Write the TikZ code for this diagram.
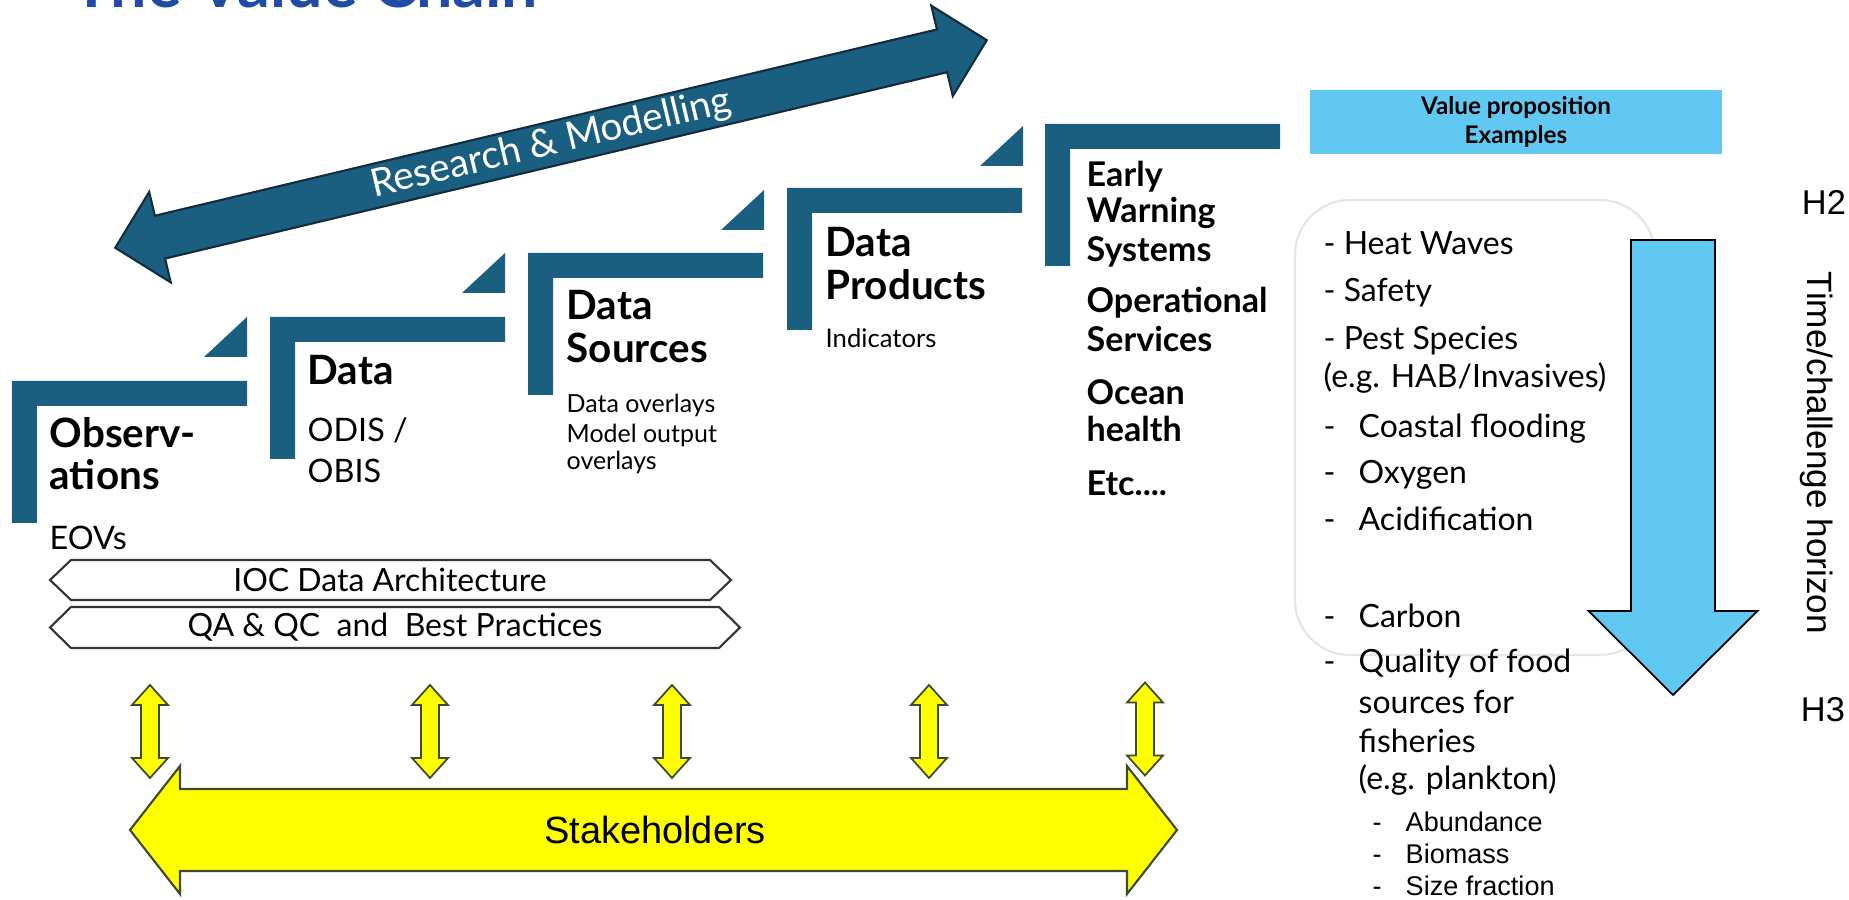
\documentclass[tikz,border=0pt]{standalone}
\usepackage{fontspec}
\setmainfont{Lato}
\newfontfamily\arialfont{Liberation Sans}
\usetikzlibrary{shapes,arrows,positioning,calc}

\definecolor{stepblue}{RGB}{26,95,128}
\definecolor{stepedge}{RGB}{20,45,60}
\definecolor{skyblue}{RGB}{97,201,241}
\definecolor{titleblue}{RGB}{33,76,165}
\definecolor{stakeyellow}{RGB}{255,255,0}
\definecolor{stakeedge}{RGB}{60,75,40}

\newcommand{\dashed}[1]{\makebox[0.35cm][l]{-}#1}
\newcommand{\subdash}[1]{\makebox[0.33cm][l]{-}#1}

\begin{document}
\begin{tikzpicture}[
    head/.style={anchor=base west, inner sep=0pt, font=\fontsize{11.5}{13}\selectfont\bfseries},
    headsm/.style={head, font=\fontsize{9.7}{12}\selectfont\bfseries},
    body/.style={anchor=base west, inner sep=0pt, font=\fontsize{9.2}{11}\selectfont},
    note/.style={anchor=base west, inner sep=0pt, font=\fontsize{7.1}{9}\selectfont},
    item/.style={anchor=base west, inner sep=0pt, font=\fontsize{9.1}{11}\selectfont},
    subitem/.style={anchor=base west, inner sep=0pt, font=\arialfont\fontsize{7.7}{9}\selectfont},
    horizon/.style={inner sep=0pt, font=\arialfont\fontsize{9.8}{11}\selectfont},
    stair/.pic={\fill[stepblue] (0,0) -- (2.35,0) -- (2.35,-0.25) -- (0.25,-0.25) -- (0.25,-1.42) -- (0,-1.42) -- cycle;},
    notch/.pic={\fill[stepblue] (0,0) -- (0,0.40) -- (-0.43,0) -- cycle;},
    updown/.pic={\filldraw[fill=stakeyellow, draw=stakeedge, line width=0.5pt] (0,0.465) -- (0.18,0.265) -- (0.09,0.265) -- (0.09,-0.265) -- (0.18,-0.265) -- (0,-0.465) -- (-0.18,-0.265) -- (-0.09,-0.265) -- (-0.09,0.265) -- (-0.18,0.265) -- cycle;}
]
    \useasboundingbox (0,0) rectangle (18.49,9.00);

    % Title (runs off the top)
    \node[anchor=base west, inner sep=0pt, text=titleblue, font=\fontsize{18.4}{22}\selectfont\bfseries] (title) at (0.72,8.92) {The Value Chain};

    % Research arrow
    \begin{scope}[shift={(5.51,7.56)}, rotate=13.4]
        \filldraw[fill=stepblue, draw=stepedge, line width=0.6pt] (-4.48,0) -- (-4.02,0.465) -- (-4.02,0.22) -- (4.02,0.22) -- (4.02,0.465) -- (4.48,0) -- (4.02,-0.465) -- (4.02,-0.22) -- (-4.02,-0.22) -- (-4.02,-0.465) -- cycle;
        \node[text=white, rotate=13.4, font=\fontsize{11}{13}\selectfont] (research) at (0,0) {Research \& Modelling};
    \end{scope}

    % Steps
    \pic at (0.12,5.19) {stair};
    \pic at (2.70,5.83) {stair};
    \pic at (5.28,6.47) {stair};
    \pic at (7.87,7.12) {stair};
    \pic at (10.45,7.76) {stair};
    \pic at (2.47,5.43) {notch};
    \pic at (5.05,6.07) {notch};
    \pic at (7.64,6.70) {notch};
    \pic at (10.23,7.34) {notch};

    % Step 1
    \node[head] (obs1) at (0.49,4.52) {Observ-};
    \node[head] (obs2) at (0.49,4.10) {ations};
    \node[body] (eovs) at (0.49,3.50) {EOVs};

    % Step 2
    \node[head] (data) at (3.07,5.15) {Data};
    \node[body] (odis) at (3.07,4.58) {ODIS /};
    \node[body] (obis) at (3.07,4.17) {OBIS};

    % Step 3
    \node[head] (src1) at (5.66,5.80) {Data};
    \node[head] (src2) at (5.66,5.37) {Sources};
    \node[note] (ovl1) at (5.66,4.87) {Data overlays};
    \node[note] (ovl2) at (5.66,4.57) {Model output};
    \node[note] (ovl3) at (5.66,4.30) {overlays};

    % Step 4
    \node[head] (prod1) at (8.25,6.43) {Data};
    \node[head] (prod2) at (8.25,6.00) {Products};
    \node[note, font=\fontsize{7.3}{9}\selectfont] (ind) at (8.25,5.52) {Indicators};

    % Step 5
    \node[headsm] (ews1) at (10.86,7.13) {Early};
    \node[headsm] (ews2) at (10.86,6.77) {Warning};
    \node[headsm] (ews3) at (10.86,6.38) {Systems};
    \node[headsm] (ops1) at (10.86,5.87) {Operational};
    \node[headsm] (ops2) at (10.86,5.48) {Services};
    \node[headsm] (oce1) at (10.86,4.95) {Ocean};
    \node[headsm] (oce2) at (10.86,4.58) {health};
    \node[headsm] (etc) at (10.86,4.04) {Etc....};

    % Architecture bars
    \draw[black!80, line width=0.6pt, fill=white] (0.50,3.20) -- (0.71,3.40) -- (7.10,3.40) -- (7.31,3.20) -- (7.10,3.00) -- (0.71,3.00) -- cycle;
    \node[font=\fontsize{9.1}{11}\selectfont] (ioc) at (3.90,3.20) {IOC Data Architecture};
    \draw[black!80, line width=0.6pt, fill=white] (0.50,2.725) -- (0.71,2.93) -- (7.19,2.93) -- (7.40,2.725) -- (7.19,2.52) -- (0.71,2.52) -- cycle;
    \node[font=\fontsize{9.1}{11}\selectfont] (qaqc) at (3.95,2.725) {QA \& QC~ and~ Best Practices};

    % Stakeholder links
    \pic at (1.50,1.685) {updown};
    \pic at (4.30,1.685) {updown};
    \pic at (6.72,1.685) {updown};
    \pic at (9.29,1.685) {updown};
    \pic at (11.45,1.71) {updown};

    % Stakeholders
    \filldraw[fill=stakeyellow, draw=stakeedge, line width=0.6pt] (1.30,0.70) -- (1.80,1.34) -- (1.80,1.11) -- (11.27,1.11) -- (11.27,1.34) -- (11.77,0.70) -- (11.27,0.06) -- (11.27,0.29) -- (1.80,0.29) -- (1.80,0.06) -- cycle;
    \node[font=\arialfont\fontsize{10.8}{13}\selectfont] (stake) at (6.55,0.70) {Stakeholders};

    % Value proposition
    \node[fill=skyblue, minimum width=4.12cm, minimum height=0.64cm, inner sep=0pt, align=center, font=\fontsize{6.9}{8}\selectfont\bfseries] (vprop) at (15.16,7.78) {Value proposition\\Examples};
    \draw[gray!20, rounded corners=0.55cm, line width=0.6pt] (12.95,2.45) rectangle (16.55,7.00);

    % Examples
    \node[item] (ex1) at (13.23,6.45) {- Heat Waves};
    \node[item] (ex2) at (13.23,5.98) {- Safety};
    \node[item] (ex3) at (13.23,5.50) {- Pest Species};
    \node[item] (ex3b) at (13.23,5.12) {(e.g. HAB/Invasives)};
    \node[item] (ex4) at (13.23,4.62) {\dashed{Coastal flooding}};
    \node[item] (ex5) at (13.23,4.16) {\dashed{Oxygen}};
    \node[item] (ex6) at (13.23,3.69) {\dashed{Acidification}};
    \node[item] (ex7) at (13.23,2.72) {\dashed{Carbon}};
    \node[item] (ex8) at (13.23,2.27) {\dashed{Quality of food}};
    \node[item] (ex8b) at (13.58,1.87) {sources for};
    \node[item] (ex8c) at (13.58,1.47) {fisheries};
    \node[item] (ex8d) at (13.58,1.10) {(e.g. plankton)};
    \node[subitem] (sub1) at (13.72,0.68) {\subdash{Abundance}};
    \node[subitem] (sub2) at (13.72,0.36) {\subdash{Biomass}};
    \node[subitem] (sub3) at (13.72,0.04) {\subdash{Size fraction}};

    % Horizon arrow
    \filldraw[fill=skyblue, draw=black, line width=0.5pt] (16.31,6.60) -- (17.15,6.60) -- (17.15,2.89) -- (17.575,2.89) -- (16.73,2.05) -- (15.885,2.89) -- (16.31,2.89) -- cycle;
    \node[horizon] (h2) at (18.24,6.98) {H2};
    \node[horizon] (h3) at (18.23,1.90) {H3};
    \node[horizon, rotate=-90, font=\arialfont\fontsize{10}{12}\selectfont] (horizon) at (18.17,4.47) {Time/challenge horizon};
\end{tikzpicture}
\end{document}
